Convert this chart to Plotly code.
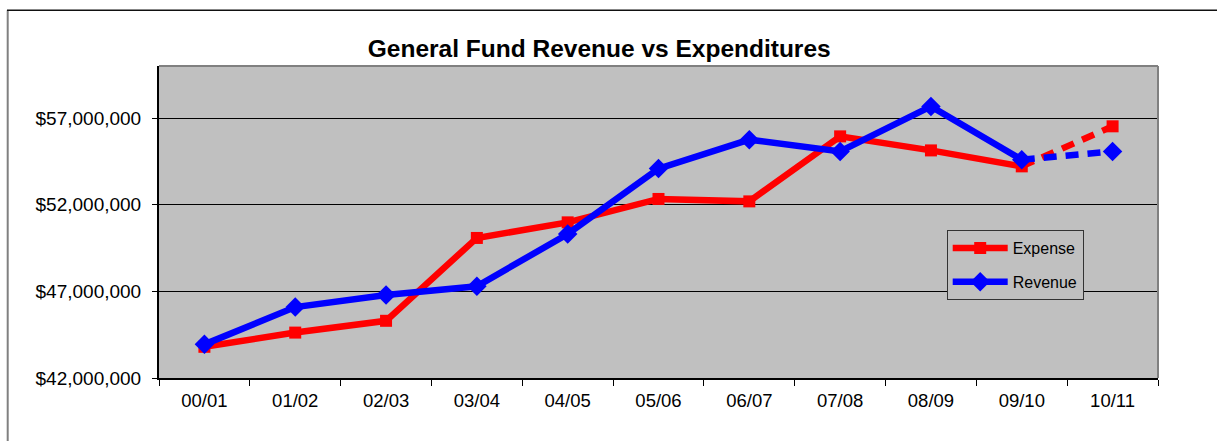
import plotly.graph_objects as go

# ---- data ----
categories = ["00/01", "01/02", "02/03", "03/04", "04/05", "05/06",
              "06/07", "07/08", "08/09", "09/10", "10/11"]
expense = [43_800_000, 44_620_000, 45_300_000, 50_080_000, 50_980_000, 52_330_000,
           52_190_000, 55_940_000, 55_130_000, 54_210_000, 56_520_000]
revenue = [43_940_000, 46_090_000, 46_790_000, 47_290_000, 50_310_000, 54_080_000,
           55_750_000, 55_070_000, 57_670_000, 54_590_000, 55_070_000]
y_ticks = [42_000_000, 47_000_000, 52_000_000, 57_000_000]
y_range = [42_000_000, 60_000_000]
n_actual = 10  # first 10 are actuals, last is projected (dashed)

W, H = 1217, 441
ML, MR, MT, MB = 159, 59, 66, 63
PW, PH = W - ML - MR, H - MT - MB

FONT = "Liberation Sans, Arial, sans-serif"
RED, BLUE = "#FF0000", "#0000FF"
LW = 6.5

fig = go.Figure()

def add_series(name, vals, color, symbol, size):
    fig.add_trace(go.Scatter(
        x=categories[:n_actual], y=vals[:n_actual], name=name,
        mode="lines+markers",
        line=dict(color=color, width=LW),
        marker=dict(color=color, symbol=symbol, size=size, opacity=1,
                    line=dict(width=0)),
        legendgroup=name, showlegend=True))
    fig.add_trace(go.Scatter(
        x=categories[n_actual - 1:], y=vals[n_actual - 1:], name=name,
        mode="lines+markers",
        line=dict(color=color, width=LW, dash="13px,9px"),
        marker=dict(color=color, symbol=symbol, size=[0, size], opacity=1,
                    line=dict(width=0)),
        legendgroup=name, showlegend=False))

add_series("Expense", expense, RED, "square", 12)
add_series("Revenue", revenue, BLUE, "diamond", 15)

def px_x(px):
    return (px - ML) / PW

def px_y(py):
    return (H - MB - py) / PH

shapes = [
    # plot area top & right border (gray)
    dict(type="line", xref="paper", yref="paper", x0=0, x1=1, y0=1, y1=1,
         line=dict(color="#808080", width=2)),
    dict(type="line", xref="paper", yref="paper", x0=1, x1=1, y0=0, y1=1,
         line=dict(color="#808080", width=2)),
    # outer chart frame (left and top)
    dict(type="line", xref="paper", yref="paper", x0=px_x(7.7), x1=px_x(7.7),
         y0=px_y(10.3), y1=px_y(H + 5), line=dict(color="#808080", width=2)),
    dict(type="line", xref="paper", yref="paper", x0=px_x(7), x1=px_x(W + 5),
         y0=px_y(10.3), y1=px_y(10.3), line=dict(color="#111111", width=1.5)),
]

fig.update_layout(
    width=W, height=H,
    margin=dict(l=ML, r=MR, t=MT, b=MB, pad=0),
    paper_bgcolor="white", plot_bgcolor="#C0C0C0",
    font=dict(family=FONT, color="black"),
    title=dict(text="<b>General Fund Revenue vs Expenditures</b>",
               font=dict(family=FONT, size=24.5, color="black"),
               x=599.2 / W, xanchor="center", xref="container",
               y=1 - 48 / H, yanchor="middle", yref="container"),
    xaxis=dict(type="category", categoryorder="array", categoryarray=categories,
               range=[-0.5, len(categories) - 0.5],
               showline=True, linecolor="black", linewidth=2,
               ticks="outside", tickson="boundaries", ticklen=6, tickwidth=1,
               tickcolor="black", showgrid=False, ticklabelstandoff=5,
               tickfont=dict(family=FONT, size=18.5, color="black")),
    yaxis=dict(range=y_range, tickvals=y_ticks, tickformat="$,.0f",
               showline=True, linecolor="black", linewidth=2,
               ticks="outside", ticklen=5, tickwidth=1, tickcolor="black",
               ticklabelstandoff=7,
               showgrid=True, gridcolor="black", gridwidth=1, zeroline=False,
               tickfont=dict(family=FONT, size=19, color="black")),
    legend=dict(x=px_x(946.7), y=px_y(230), xanchor="left", yanchor="top",
                bgcolor="#C0C0C0", bordercolor="#333333", borderwidth=1,
                font=dict(family=FONT, size=16, color="black"),
                itemwidth=55, tracegroupgap=10, traceorder="grouped"),
    shapes=shapes,
    showlegend=True,
)

fig.write_html("out.html", config={"displayModeBar": False},
               post_script="document.body.style.margin='0';document.body.style.padding='0';")
